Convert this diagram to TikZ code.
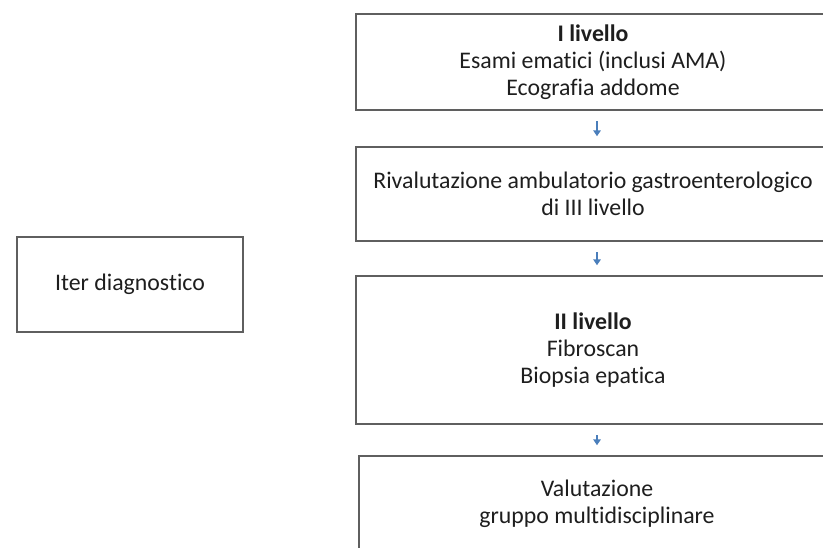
\documentclass[tikz,border=0pt]{standalone}
\usepackage{fontspec}
\setmainfont{Carlito}[RawFeature=-liga]
\usetikzlibrary{arrows.meta}
\definecolor{edge}{HTML}{5F5F5F}
\definecolor{ink}{HTML}{1E1E1E}
\definecolor{flow}{HTML}{4A7EBB}
\tikzset{
  stepbox/.style={draw=edge, line width=1.4pt, fill=white, align=center,
    inner sep=0pt, text=ink, font=\fontsize{23.8}{27}\selectfont},
  flowarrow/.style={draw=flow, line width=2.2pt,
    -{Triangle[width=7.5pt,length=6pt]}, shorten <=10.5pt, shorten >=10pt}
}
\begin{document}
\begin{tikzpicture}[x=1pt,y=-1pt]
  \useasboundingbox (0,0) rectangle (823,548);
  \clip (0,0) rectangle (823,548);
  \fill[white] (0,0) rectangle (823,548);

  % left label
  \node[stepbox, minimum width=226pt, minimum height=95pt] (iter) at (130,284.5) {Iter diagnostico};

  % diagnostic steps
  \node[stepbox, minimum width=474pt, minimum height=96pt] (l1) at (593,62)
    {\textbf{I livello}\\Esami ematici (inclusi AMA)\\Ecografia addome};
  \node[stepbox, minimum width=474pt, minimum height=94pt] (riv) at (593,194)
    {Rivalutazione ambulatorio gastroenterologico\\di III livello};
  \node[stepbox, minimum width=474pt, minimum height=148pt] (l2) at (593,350)
    {\textbf{II livello}\\Fibroscan\\Biopsia epatica};
  \node[stepbox, minimum width=476pt, minimum height=96pt] (mdt) at (597,504)
    {Valutazione\\gruppo multidisciplinare};

  % connectors
  \draw[flowarrow] ([xshift=4pt]l1.south) -- ([xshift=4pt]riv.north);
  \draw[flowarrow] ([xshift=4pt]riv.south) -- ([xshift=4pt]l2.north);
  \draw[flowarrow] ([xshift=4pt]l2.south) -- (mdt.north);
\end{tikzpicture}
\end{document}
